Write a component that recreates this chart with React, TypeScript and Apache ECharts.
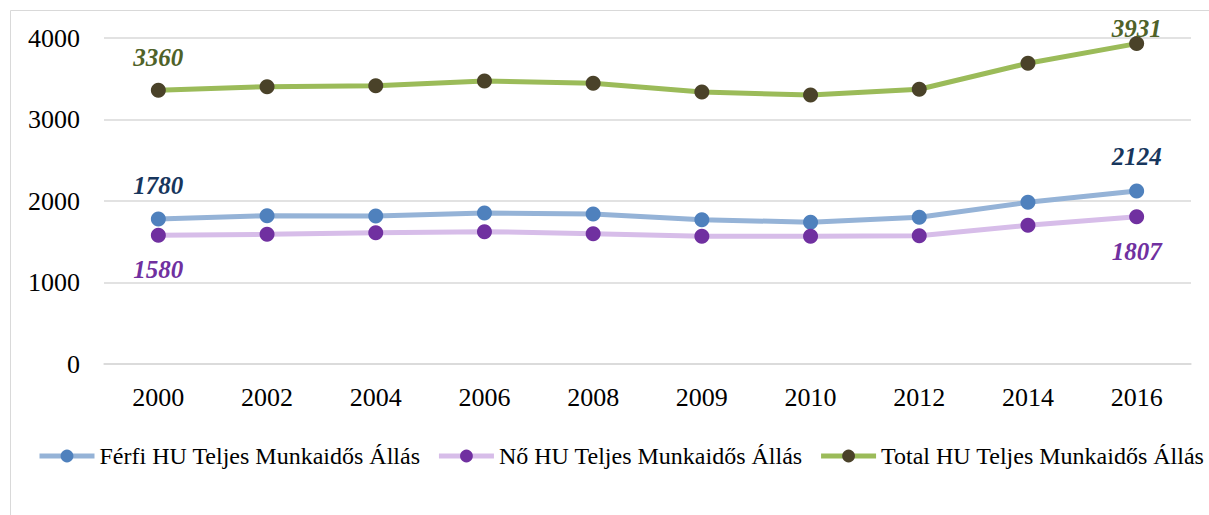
import React, { useEffect, useRef } from "react";
import * as echarts from "echarts";

const years = ["2000", "2002", "2004", "2006", "2008", "2009", "2010", "2012", "2014", "2016"];
const ferfi = [1780, 1820, 1816, 1853, 1840, 1771, 1739, 1800, 1984, 2124];
const no = [1580, 1591, 1611, 1624, 1599, 1567, 1567, 1575, 1702, 1807];
const total = [3360, 3403, 3413, 3472, 3444, 3337, 3301, 3371, 3690, 3931];
const seriesNames = [
  "Férfi HU Teljes Munkaidős Állás",
  "Nő HU Teljes Munkaidős Állás",
  "Total HU Teljes Munkaidős Állás",
];

const FONT = "Liberation Serif";

function withLabels(values: number[], color: string, offFirst: number, offLast: number) {
  return values.map((v, i) => {
    if (i === 0 || i === values.length - 1) {
      return {
        value: v,
        label: {
          show: true,
          position: "inside",
          offset: [0, i === 0 ? offFirst : offLast],
          color,
          fontFamily: FONT,
          fontSize: 25,
          fontWeight: "bold",
          fontStyle: "italic",
          formatter: String(v),
        },
      };
    }
    return v;
  });
}

export default function App() {
  const ref = useRef<HTMLDivElement>(null);
  useEffect(() => {
    document.body.style.margin = "0";
    const chart = echarts.init(ref.current!, null, { renderer: "svg" });
    chart.setOption({
      animation: false,
      backgroundColor: "#ffffff",
      textStyle: { fontFamily: FONT },
      graphic: [
        {
          type: "rect",
          shape: { x: 10.5, y: 10.5, width: 1230, height: 540 },
          style: { fill: "none", stroke: "#d9d9d9", lineWidth: 1 },
          silent: true,
        },
      ],
      grid: { left: 104, right: 18, top: 38, bottom: 151, containLabel: false },
      legend: {
        left: 37,
        top: 444,
        padding: 0,
        width: 1200,
        itemWidth: 55,
        itemHeight: 16,
        itemGap: 16,
        lineStyle: { width: 5 },
        textStyle: { fontFamily: FONT, fontSize: 24, color: "#000" },
        data: seriesNames,
      },
      xAxis: {
        type: "category",
        data: years,
        boundaryGap: true,
        axisLine: { show: true, lineStyle: { color: "#d9d9d9", width: 1.5 } },
        axisTick: { show: false },
        axisLabel: { fontFamily: FONT, fontSize: 26, color: "#000", margin: 20 },
      },
      yAxis: {
        type: "value",
        min: 0,
        max: 4000,
        interval: 1000,
        axisLine: { show: false },
        axisTick: { show: false },
        splitLine: { lineStyle: { color: "#d9d9d9", width: 1.5 } },
        axisLabel: {
          fontFamily: FONT,
          fontSize: 26,
          color: "#000",
          margin: 24,
          formatter: (v: number) => String(v),
        },
      },
      series: [
        {
          name: seriesNames[0],
          type: "line",
          data: withLabels(ferfi, "#17365d", -33, -34),
          symbol: "circle",
          symbolSize: 15,
          lineStyle: { color: "#95b3d7", width: 5 },
          itemStyle: { color: "#4f81bd" },
        },
        {
          name: seriesNames[1],
          type: "line",
          data: withLabels(no, "#7030a0", 34, 35),
          symbol: "circle",
          symbolSize: 15,
          lineStyle: { color: "#d7bde9", width: 5 },
          itemStyle: { color: "#7030a0" },
        },
        {
          name: seriesNames[2],
          type: "line",
          data: withLabels(total, "#4f6228", -33, -15),
          symbol: "circle",
          symbolSize: 15,
          lineStyle: { color: "#9bbb59", width: 5 },
          itemStyle: { color: "#4a4229" },
        },
      ],
    });
    return () => chart.dispose();
  }, []);
  return <div ref={ref} style={{ width: 1209, height: 515 }} />;
}
